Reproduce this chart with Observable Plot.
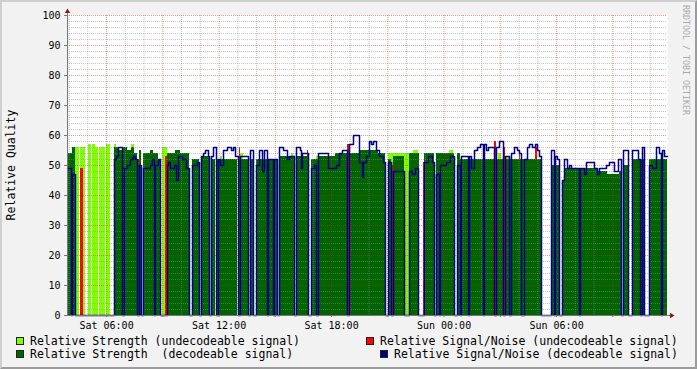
<!DOCTYPE html>
<html>
<head>
<meta charset="utf-8">
<script src="https://cdn.jsdelivr.net/npm/d3@7"></script>
<script src="https://cdn.jsdelivr.net/npm/@observablehq/plot@0.6"></script>
<style>
html, body { margin:0; padding:0; background:#f2f2f2; }
#wrap { position:relative; width:697px; height:369px; background:#f2f2f2; overflow:hidden; font-family:"DejaVu Sans Mono", monospace; }
#chart { position:absolute; left:0; top:0; }
#frame { position:absolute; left:0; top:0; width:697px; height:369px; box-sizing:border-box; border-style:solid; border-width:2px; border-color:#cfcfcf #9c9c9c #9c9c9c #cfcfcf; pointer-events:none; }
.ytitle { position:absolute; left:11px; top:165px; transform:translate(-50%,-50%) rotate(-90deg); font-size:11.5px; white-space:pre; color:#000; }
.wm { position:absolute; left:686px; top:60px; transform:translate(-50%,-50%) rotate(90deg); font-size:8.3px; white-space:pre; color:#aaaaaa; }
.leg { position:absolute; font-size:11.5px; line-height:13px; white-space:pre; color:#000; }
.sw { position:absolute; width:6px; height:6px; border:1px solid #222; }
</style>
</head>
<body>
<div id="wrap">
  <div id="chart"></div>
  <div class="ytitle">Relative Quality</div>
  <div class="wm">RRDTOOL / TOBI OETIKER</div>
  <div id="legend"></div>
  <div id="frame"></div>
</div>
<script>
// ---------- data ----------
const seriesNames = [
  "Relative Strength (undecodeable signal)",
  "Relative Signal/Noise (undecodeable signal)",
  "Relative Strength  (decodeable signal)",
  "Relative Signal/Noise (decodeable signal)"
];
const seriesColors = ["#80ff00", "#ff0000", "#006400", "#000080"];
const yTicks = [0, 10, 20, 30, 40, 50, 60, 70, 80, 90, 100];
const xTickFormat = "%a %H:%M";
const startTime = Date.UTC(2023, 0, 7, 3, 55); // Sat 03:55
const stepSeconds = 192;   // one RRD sample
const sampleCount = 600;   // 32 hours

// step change points: [sample index, value]
const strengthUndecodeable = [[0,0],[8,56],[12,0],[13,56],[18,0],[21,57],[24,0],[25,57],[28,56],[31,0],[32,56],[38,0],[39,57],[43,0],[47,57],[49,0],[64,57],[67,0],[95,56],[100,0],[153,53],[155,0],[173,54],[176,0],[224,54],[226,0],[249,53],[251,0],[321,54],[342,0],[346,55],[351,0],[382,55],[386,0],[431,54],[434,0],[439,53],[442,0]];

const snUndecodeable = [[0,0],[13,49],[16,0],[70,52],[72,0],[98,53],[100,0],[172,56],[173,0],[200,55],[201,0],[240,55],[241,0],[280,57],[282,0],[324,50],[326,0],[356,51],[357,0],[427,58],[429,0],[436,56],[438,0],[452,55],[453,0],[468,56],[470,0]];

const strengthDecodeable = [[0,54],[5,56],[8,0],[47,56],[51,55],[55,56],[60,55],[64,56],[67,54],[70,50],[72,55],[74,0],[76,54],[83,55],[86,54],[91,52],[93,0],[100,54],[108,55],[113,54],[122,0],[125,52],[132,0],[134,53],[142,0],[144,52],[148,0],[150,52],[170,0],[172,52],[181,0],[183,52],[186,0],[189,52],[210,0],[212,53],[227,0],[229,53],[241,0],[244,52],[251,53],[268,54],[280,0],[282,54],[292,55],[311,54],[318,0],[321,52],[324,0],[326,53],[337,0],[342,54],[352,0],[357,54],[367,0],[369,54],[387,0],[390,54],[393,52],[427,0],[429,52],[436,0],[438,52],[474,0],[484,50],[492,0],[495,45],[497,49],[531,48],[540,47],[552,48],[554,0],[556,50],[561,0],[565,52],[577,0],[582,52]];

const snDecodeable = [[0,49],[4,0],[5,47],[8,0],[47,52],[49,53],[51,56],[55,0],[57,49],[60,50],[63,52],[66,53],[68,52],[70,0],[72,50],[74,0],[76,49],[83,50],[85,52],[87,0],[88,50],[91,52],[93,0],[100,50],[101,51],[103,49],[107,50],[109,45],[111,53],[115,52],[119,49],[122,0],[125,50],[130,51],[132,0],[134,53],[136,54],[138,55],[141,53],[142,0],[144,53],[146,56],[149,0],[151,52],[153,50],[156,55],[160,56],[164,55],[166,56],[168,53],[171,0],[173,53],[181,0],[183,55],[186,0],[189,50],[192,55],[195,48],[197,55],[200,0],[201,52],[206,0],[207,52],[210,0],[212,56],[216,55],[220,52],[222,53],[227,0],[229,56],[233,55],[234,49],[235,54],[241,0],[244,49],[247,50],[249,0],[251,54],[261,49],[269,50],[272,54],[275,55],[280,0],[282,57],[286,60],[292,51],[295,46],[296,51],[299,53],[302,58],[304,57],[306,58],[309,55],[312,53],[316,51],[318,0],[321,51],[324,0],[326,48],[337,0],[342,48],[345,47],[348,49],[351,0],[357,51],[361,53],[365,51],[367,0],[369,47],[372,0],[373,50],[379,51],[383,53],[387,0],[390,50],[393,0],[394,53],[401,0],[402,53],[404,49],[407,55],[410,56],[413,57],[416,0],[417,57],[419,55],[421,56],[427,0],[429,56],[432,58],[436,0],[438,53],[442,0],[444,54],[447,56],[450,55],[452,54],[454,0],[457,52],[460,56],[462,57],[465,56],[468,57],[470,55],[472,53],[474,0],[484,55],[487,0],[488,53],[490,52],[492,0],[495,45],[497,52],[500,49],[502,50],[504,49],[512,0],[513,49],[517,47],[519,51],[527,49],[530,47],[532,49],[539,50],[542,51],[547,48],[551,52],[554,0],[556,55],[561,0],[565,55],[571,52],[573,0],[575,56],[577,0],[582,50],[585,49],[589,56],[592,54],[594,0],[595,55],[597,53]];

// ---------- build ----------
const t0 = new Date(startTime);
const t1 = new Date(startTime + sampleCount * stepSeconds * 1000);
function toRows(changes) {
  const out = changes.map(([i, v]) => ({t: new Date(startTime + i * stepSeconds * 1000), v}));
  out.push({t: t1, v: changes[changes.length - 1][1]});
  return out;
}
const minorY = d3.range(0, 101, 2).filter(v => v % 10 !== 0);
const majorY = d3.range(10, 101, 10);
const allHours = d3.utcHour.range(t0, t1);
const minorX = allHours.filter(d => d.getUTCHours() % 3 !== 0);
const majorX = allHours.filter(d => d.getUTCHours() % 3 === 0);

const areaOpts = {x: "t", y: "v", curve: "step-after", shapeRendering: "crispEdges"};
const chart = Plot.plot({
  width: 697, height: 369,
  marginLeft: 67, marginRight: 30, marginTop: 15, marginBottom: 54,
  x: {type: "utc", domain: [t0, t1]},
  y: {domain: [0, 100]},
  style: {background: "transparent", fontFamily: "DejaVu Sans Mono", fontSize: "10px", color: "#000", overflow: "visible"},
  marks: [
    Plot.frame({fill: "#ffffff", stroke: "none"}),
    Plot.areaY(toRows(strengthUndecodeable), {...areaOpts, fill: seriesColors[0]}),
    Plot.areaY(toRows(snUndecodeable), {...areaOpts, fill: seriesColors[1]}),
    Plot.areaY(toRows(strengthDecodeable), {...areaOpts, fill: seriesColors[2]}),
    Plot.ruleY(minorY, {stroke: "#8c8c8c", strokeOpacity: 0.5, strokeDasharray: "1,1"}),
    Plot.ruleX(minorX, {stroke: "#8c8c8c", strokeOpacity: 0.5, strokeDasharray: "1,1"}),
    Plot.ruleY(majorY, {stroke: "#d42020", strokeOpacity: 0.45, strokeDasharray: "1,1"}),
    Plot.ruleX(majorX, {stroke: "#d42020", strokeOpacity: 0.45, strokeDasharray: "1,1"}),
    Plot.line(toRows(snDecodeable), {x: "t", y: "v", curve: "step-after", stroke: seriesColors[3], strokeWidth: 1.5}),
    Plot.ruleY([0], {stroke: "#777", insetRight: -4}),
    Plot.ruleX([t0], {stroke: "#777", insetTop: -6}),
    Plot.axisY({ticks: yTicks, tickSize: 3, tickPadding: 4, fontSize: 10, label: null, stroke: "#777"}),
    Plot.axisX({ticks: majorX, tickSize: 2, tickFormat: () => "", label: null, stroke: "#777"}),
    Plot.axisX({ticks: d3.utcHour.every(6), tickFormat: d3.utcFormat(xTickFormat), tickSize: 0, tickPadding: 6, fontSize: 10, label: null}),
    Plot.dot({length: 1}, {frameAnchor: "top-left", dy: -4, symbol: "triangle", r: 2, fill: "#8b1a1a", stroke: "none"}),
    Plot.dot({length: 1}, {frameAnchor: "bottom-right", dx: 4, symbol: "triangle", rotate: 90, r: 2, fill: "#8b1a1a", stroke: "none"})
  ]
});
document.getElementById("chart").appendChild(chart);

// ---------- legend ----------
const legendLayout = [
  {sx: 16, sy: 337, tx: 30, ty: 334.5},
  {sx: 366, sy: 337, tx: 380, ty: 334.5},
  {sx: 16, sy: 350, tx: 30, ty: 348},
  {sx: 380, sy: 350, tx: 394, ty: 348}
];
const legend = document.getElementById("legend");
seriesNames.forEach((name, k) => {
  const p = legendLayout[k];
  const sw = document.createElement("div");
  sw.className = "sw";
  sw.style.left = p.sx + "px"; sw.style.top = p.sy + "px";
  sw.style.background = seriesColors[k];
  legend.appendChild(sw);
  const tx = document.createElement("div");
  tx.className = "leg";
  tx.style.left = p.tx + "px"; tx.style.top = p.ty + "px";
  tx.textContent = name;
  legend.appendChild(tx);
});
</script>
</body>
</html>
